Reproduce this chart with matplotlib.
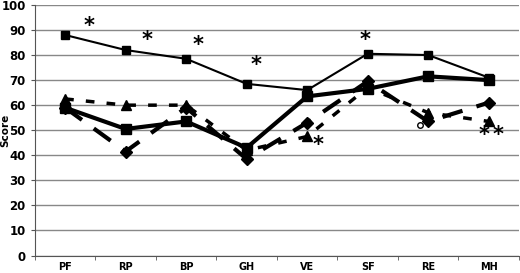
import numpy as np
import matplotlib
matplotlib.use("Agg")
import matplotlib.pyplot as plt

categories = ["PF", "RP", "BP", "GH", "VE", "SF", "RE", "MH"]

# four groups
thin_squares = [88, 82, 78.5, 68.5, 66, 80.5, 80, 71]
thick_squares = [59, 50.5, 53.5, 43, 63.5, 66.5, 71.5, 70]
dash_diamonds = [59, 41.5, 59, 38.5, 53, 69.5, 53.5, 61]
dot_triangles = [62.5, 60, 60, 42, 47.5, 67, 57, 53.5]

# significance marks (x as category index, y as score)
star_x = [0.4, 1.35, 2.2, 3.15, 4.18, 4.95, 6.92, 7.15]
star_y = [91.5, 86, 84, 76, 44, 86, 48, 48]

fig = plt.figure(figsize=(5.2, 2.73), dpi=100)
ax = fig.add_axes([0.067, 0.064, 0.931, 0.918])
x = np.arange(len(categories))

ax.plot(x, thin_squares, color="black", lw=1.5, marker="s", ms=6, zorder=4)
ax.plot(x, thick_squares, color="black", lw=3, marker="s", ms=7, zorder=3)
ax.plot(x, dash_diamonds, color="black", lw=3, marker="D", ms=6,
        dashes=(5, 3.5), zorder=3)
ax.plot(x, dot_triangles, color="black", lw=2.5, marker="^", ms=7,
        dashes=(2.5, 3.5), zorder=3)
ax.plot([6 - 0.13], [52], marker="o", ms=4, mfc="white", mec="black", mew=1, ls="none")

for sx, sy in zip(star_x, star_y):
    ax.text(sx, sy, "*", fontsize=15, fontweight="bold", ha="center", va="center")

ax.set_xlim(-0.5, 7.5)
ax.set_ylim(0, 100)
ax.set_yticks(np.arange(0, 101, 10))
ax.set_xticks(x)
ax.set_xticklabels(categories)
ax.set_xticks(np.arange(-0.5, 8, 1), minor=True)
ax.tick_params(axis="x", which="major", length=0, pad=5)
ax.tick_params(axis="x", which="minor", length=3, color="#555555")
ax.tick_params(axis="y", length=3, color="#555555")
for lab in ax.get_xticklabels():
    lab.set_fontweight("bold")
    lab.set_fontsize(7)
for lab in ax.get_yticklabels():
    lab.set_fontweight("bold")
    lab.set_fontsize(8.5)
ax.set_ylabel("Score", fontweight="bold", fontsize=7.5)
ax.yaxis.set_label_coords(-0.05, 0.5)
ax.grid(axis="y", color="#888888", lw=1)
ax.set_axisbelow(True)
for s in ("top", "right"):
    ax.spines[s].set_visible(False)
for s in ("left", "bottom"):
    ax.spines[s].set_color("#555555")

fig.savefig("out.png", dpi=100)
